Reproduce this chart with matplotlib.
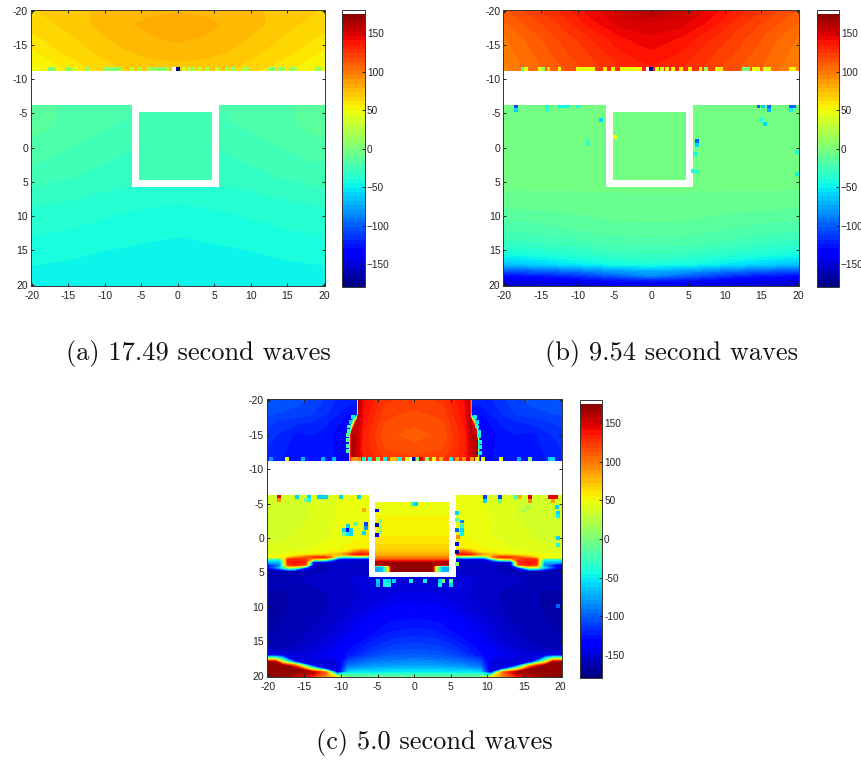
import numpy as np
import matplotlib
matplotlib.use('Agg')
import matplotlib.pyplot as plt
from matplotlib.colors import ListedColormap, Normalize
from matplotlib.cm import ScalarMappable

plt.rcParams['font.family'] = ['Liberation Sans', 'DejaVu Sans']

captions = ['(a) 17.49 second waves', '(b) 9.54 second waves', '(c) 5.0 second waves']
tick_vals = [-20, -15, -10, -5, 0, 5, 10, 15, 20]
cb_ticks = [-150, -100, -50, 0, 50, 100, 150]

# everything is mirrored about x=0, so only x>=0 is listed
# panel a
a_top_x = [0, 4, 8, 12, 16, 20.2]
a_top_y = [-20.2, -18, -16, -14, -12, -11.2]
a_top_z = [[78, 77, 75, 73, 70, 67],
           [82, 80, 77, 73, 68, 64],
           [80, 78, 75, 70, 65, 60],
           [76, 75, 72, 67, 62, 55],
           [72, 71, 68, 63, 57, 50],
           [70, 69, 66, 60, 54, 47]]
a_side_x = [6, 10, 14, 18, 20.6]
a_side_y = [-6.2, -3, 0, 5.8]
a_side_z = [[-22, -20, -18, -16, -15],
            [-24, -22, -19, -16, -15],
            [-28, -26, -23, -20, -18],
            [-32, -31, -30, -29, -28]]
a_in_x = [0, 5]
a_in_y = [-5.2, 4.8]
a_in_z = [[-23, -23], [-26, -26]]
a_low_x = [0, 5, 10, 15, 20.2]
a_low_y = [5.8, 10, 14, 18, 20.2]
a_low_z = [[-36, -35, -33, -31, -30],
           [-42, -41, -39, -37, -36],
           [-46, -45, -44, -42, -41],
           [-49, -49, -48, -47, -46],
           [-50, -50, -50, -49, -49]]
edge_x = [-17.5, -17, -15.2, -14.7, -14, -12.5, -10, -9.5, -9, -8.5, -8, -6.3, -5.2,
          -4, -3.5, -3, -2.5, -2, -1.5, -0.5, 0, 0.8, 1.5, 2.2, 3, 4, 5.3, 6.7, 7.5,
          9, 9.5, 12.6, 13.2, 14, 14.5, 15.5, 16, 19, 19.5]
a_edge_v = [5, 10, 0, 5, 40, 10, 10, 5, 0, 5, 10, 30, 20, 20, 10, 15, 5, 10, 20, 180, -170,
            30, 25, 20, 30, 15, 30, 20, 10, 25, 15, 10, 5, 10, 15, 5, 20, 10, 15]
# panel b
b_top_z = [[165, 155, 145, 132, 122, 112],
           [150, 148, 138, 125, 115, 105],
           [145, 140, 130, 120, 110, 100],
           [140, 135, 125, 117, 107, 98],
           [135, 130, 122, 113, 105, 95],
           [133, 128, 120, 112, 104, 93]]
b_side_z = [[-3, -3, -3, -3, -3],
            [-3, -3, -3, -3, -3],
            [-3, -3, -3, -4, -4],
            [-5, -5, -5, -5, -6]]
b_in_z = [[-3, -3], [-4, -4]]
b_low_y = [5.8, 8, 10, 12, 14, 15.5, 17, 18, 18.7, 19.3, 20.2]
b_low_z = [[-5, -5, -5, -5, -5],
           [-7, -7, -8, -8, -9],
           [-10, -10, -12, -14, -15],
           [-13, -14, -17, -20, -22],
           [-20, -21, -25, -29, -32],
           [-28, -30, -35, -40, -44],
           [-40, -44, -52, -60, -66],
           [-75, -80, -92, -100, -105],
           [-85, -100, -115, -125, -130],
           [-120, -125, -135, -140, -145],
           [-145, -150, -155, -158, -160]]
b_edge_v = [-20, 45, 50, 10, 65, 50, 45, 50, 40, 45, 50, 60, 45, 45, 50, 40, 50, 45, 55, 180, -170,
            50, 30, 45, 50, 60, 45, 55, 10, 50, 60, 10, -10, 45, 50, 35, 50, 45, 55]
b_spot_x = [-18.4, -18.4, -14.2, -14.2, -12.5, -12, -11.5, -10, -8.6, -8.6, -6.8, -5, 6.2, 6.2, 5.9, 5.7, 6.2,
            14.6, 15.2, 16, 16, 15, 15.5, 19, 19.5, 19, 19.8, 19.8]
b_spot_y = [-6, -5.5, -6, -5.5, -6, -6, -6, -6, -1, -0.5, -4, -1.6, -0.9, -0.4, 1, 3.4, 3.6,
            -6, -6, -6, -5.5, -4, -3.5, -6, -6, -5.5, 0.7, 3.9]
b_spot_v = [-110, -60, -40, -30, -50, -50, -50, -40, -30, -30, -60, 50, -100, -60, -40, -35, -30,
            -100, -60, -100, -70, -45, -60, -100, -100, -50, -40, -50]
# panel c
c_top_x = [0, 4, 7, 7.6, 7.8, 8.6, 8.9, 10, 12, 14, 16, 18, 20.2]
c_top_y = [-20.2, -18, -17, -15, -13, -11.2]
c_top_z = [[122, 125, 142, 158, -120, -120, -120, -120, -114, -108, -104, -102, -100],
           [116, 120, 140, 158, -130, -130, -130, -125, -118, -112, -110, -108, -106],
           [114, 118, 138, 155, 165, -135, -135, -130, -122, -118, -116, -113, -110],
           [110, 114, 134, 150, 155, 165, -145, -135, -126, -124, -126, -120, -115],
           [114, 118, 134, 148, 152, 165, -145, -135, -124, -124, -128, -122, -118],
           [120, 124, 136, 148, 150, 165, -145, -135, -124, -124, -128, -124, -118]]
c_side_x = [6, 7, 8, 9, 10, 11, 12, 13.5, 14.5, 16, 17, 18, 20.6]
c_side_y = [-6.2, -3, 0, 1.5, 2.0, 2.4, 2.8, 3.1, 3.5, 3.9, 4.3, 4.8, 5.8]
c_side_z = [[48, 48, 47, 46, 45, 44, 42, 40, 39, 38, 37, 36, 36],
            [50, 49, 48, 47, 46, 44, 42, 40, 39, 38, 37, 36, 36],
            [52, 51, 50, 49, 47, 45, 44, 42, 41, 40, 39, 38, 38],
            [54, 54, 53, 52, 50, 49, 47, 45, 44, 43, 42, 41, 40],
            [100, 110, 85, 58, 54, 52, 50, 48, 47, 45, 44, 43, 42],
            [130, 138, 130, 100, 78, 68, 62, 56, 52, 50, 48, 46, 45],
            [-60, -40, -50, -55, -40, 100, 125, 125, 110, 80, 60, 52, 48],
            [-150, -148, -148, -148, -145, -60, 35, 55, 120, 130, 120, -40, -40],
            [-155, -155, -155, -155, -155, -155, -155, -150, 130, 138, 130, -70, -70],
            [-155, -155, -155, -156, -156, -156, -158, -155, 110, 135, 120, -90, -165],
            [-155, -155, -156, -156, -157, -157, -158, -158, -120, 20, 20, -60, -165],
            [-155, -155, -156, -156, -157, -158, -158, -160, -160, -160, -160, -160, -165],
            [-150, -150, -151, -152, -152, -153, -154, -156, -157, -158, -159, -160, -160]]
c_in_x = [0, 1, 2, 2.8, 3.2, 4, 5]
c_in_y = [-5.2, -2, 0, 1, 2, 2.5, 3, 3.3, 3.6, 3.9, 4.1, 4.8]
c_in_z = [[50, 50, 50, 50, 50, 50, 50],
          [51, 51, 51, 51, 51, 51, 51],
          [57, 57, 57, 57, 57, 57, 57],
          [62, 62, 62, 62, 62, 62, 62],
          [70, 70, 70, 70, 70, 70, 70],
          [82, 82, 82, 82, 82, 82, 82],
          [100, 100, 100, 100, 100, 100, 100],
          [130, 130, 130, 130, 130, 130, 130],
          [168, 168, 168, 168, 168, 168, 168],
          [170, 170, 170, 170, 165, 165, 165],
          [172, 172, 172, 172, 40, -70, -70],
          [172, 172, 172, 172, 45, -70, -70]]
c_low_x = [0, 3, 6, 9, 10.5, 12, 14, 16, 18, 19, 20.2]
c_low_y = [5.8, 8, 10, 12, 14, 16, 17, 18, 18.5, 19, 19.5, 20.2]
c_low_z = [[-148, -148, -150, -152, -152, -154, -156, -158, -160, -160, -160],
           [-146, -147, -150, -154, -156, -158, -160, -162, -164, -164, -165],
           [-138, -140, -146, -152, -155, -158, -160, -162, -164, -164, -165],
           [-128, -130, -138, -148, -152, -156, -159, -162, -163, -164, -164],
           [-120, -122, -130, -142, -148, -152, -156, -160, -162, -163, -163],
           [-108, -110, -118, -132, -140, -146, -152, -156, -160, -160, -160],
           [-100, -102, -110, -128, -136, -142, -146, -150, -148, -140, -150],
           [-85, -88, -92, -105, -150, -150, -150, -140, 40, 165, 170],
           [-78, -80, -84, -95, -150, -150, -140, 80, 170, 170, 170],
           [-65, -66, -70, -80, -150, -140, 20, 170, 170, 170, 170],
           [-50, -50, -52, -55, -150, 100, 165, 170, 170, 170, 170],
           [-10, -10, -10, -5, 50, 90, 130, 150, 170, 170, 170]]
c_edge_x = [-19.5, -17.4, -15.2, -12.5, -10.9, -8.4, -8, -7.5, -6.9, -6, -5, -4, -3, -2.5, -2, -1, -0.5, -0.1,
            0.45, 0.9, 1.8, 2.7, 3.6, 5, 5.9, 6.8, 7.9, 8.6, 9.4, 11.9, 14.3, 15.8, 18.5, 19]
c_edge_v = [-80, 50, -70, -70, -70, 90, 85, 90, -40, -50, 10, -50, 70, 75, -50, 45, 180, -170,
            10, 150, 10, 50, 80, -50, 85, 90, 85, 50, 50, 50, -70, 10, -60, -60]
c_spot_x = [-18.45, -18.45, -15.95, -14.4, -14.4, -14.8, -13, -12.6, -12.1, -9.95, -7.6, -6.9,
            -9.1, -9.6, -8.6, -9.1, -9.1, -8.6, -9.6, -8.1, -6.6, -6.6, -6.8,
            -5, -4, -3.5, -2.8, -0.5, 1.5, 3.5, 4, 5, -5, -4, -3.5, 3.5, 5,
            -5.1, -5.1, -5.1, -4.6, -4.6, -4.6, -0.2, 0.3,
            5.9, 5.9, 6.5, 5.9, 6.5, 6, 5.9, 5.9, 5.9, 6.5, 6.5,
            9.7, 9.7, 11.7, 11.7, 13.9, 14.5, 15.8, 15.8, 19, 18.6, 19.4, 19, 19.5,
            15, 15.5, 19.7, 19.7, 19.7, 19.7, 19.7,
            -8.4, -8.7, -8.9, -8.9, -9, -9, -9, -9, 8.3, 8.6, 8.6, 8.9, 8.9, 9, 9, 9]
c_spot_y = [-6, -5.5, -6, -6, -5.5, -5.5, -6, -6, -6, -6, -6, -4.1,
            -1.16, -1.16, -1.16, -1.7, -0.6, -0.6, -0.6, -2, -1.4, -2, -0.7,
            6.2, 6.2, 6.2, 6.2, 6.2, 6.2, 6.2, 6.2, 6.2, 6.8, 6.8, 6.8, 6.8, 6.8,
            -4, -1.9, -0.5, -2.5, -1.6, -0.9, -5, -5,
            -3.6, -2.6, -2.4, -1.1, -1.2, -0.1, 0.9, 2, 3.8, -1.8, -0.6,
            -6, -5.4, -6, -5.4, -6, -6, -6, -5.4, -6, -6, -6, -5.4, -4.5,
            -4, -4.5, -3.7, -3.2, 0, 1, 9.9,
            -17.6, -16.8, -16.2, -15.6, -15, -14.2, -13.4, -12.6, -17.6, -16.8, -16.2, -15.4, -14.8, -14, -13.2, -12.4]
c_spot_v = [150, 90, -60, -60, -40, -10, -60, -60, -60, -60, -60, 80,
            -140, -60, -60, -60, -50, -60, -10, -10, -80, -110, -60,
            -60, -50, -60, -60, -50, -50, -60, -10, -20, -70, -50, -40, -50, -60,
            -130, -165, -140, -10, 0, -10, -40, -60,
            -60, -10, -90, -100, -60, 90, -130, -170, 10, -30, -50,
            -110, -60, -110, -10, -30, 80, 150, 90, 150, 150, 150, 85, -60,
            15, 10, -60, -50, -60, -40, -100,
            -50, -60, -30, -20, -20, -15, -20, -25, -50, -55, -40, -45, -50, -40, -45, -50]

# the moonpool walls sit a bit left of x=0 in the original
wall_shift = -0.28

# 64 level jet, top level is the white one used for the gaps in the original
colors = plt.cm.jet(np.linspace(0, 1, 64))
colors[-1] = [1, 1, 1, 1]
cmap = ListedColormap(colors)
norm = Normalize(-180, 180)
levels = np.linspace(-180, 180, 65)

W, H = 862, 760
fig = plt.figure(figsize=(W / 100, H / 100), dpi=100)


def px_axes(x0, y0, x1, y1):
    return fig.add_axes([x0 / W, 1 - y1 / H, (x1 - x0) / W, (y1 - y0) / H])


def block(ax, xs, ys, zs, kind='full'):
    xs = np.array(xs, float)
    zs = np.array(zs, float)
    if kind == 'side':
        ax.contourf(xs + wall_shift, ys, zs, levels=levels, cmap=cmap, norm=norm)
        ax.contourf(-xs + wall_shift, ys, zs, levels=levels, cmap=cmap, norm=norm)
    else:
        shift = wall_shift if kind == 'inner' else 0
        ax.contourf(np.r_[-xs[:0:-1], xs] + shift, ys, np.c_[zs[:, :0:-1], zs],
                    levels=levels, cmap=cmap, norm=norm)


def panel(box, cb_box, caption, cap_xy, blocks, sx, sy, sv):
    ax = px_axes(*box)
    for b in blocks:
        block(ax, *b)
    ax.scatter(sx, sy, c=sv, cmap=cmap, norm=norm, marker='s', s=8, linewidths=0, zorder=3)
    ax.set_xlim(-20.15, 20.15)
    ax.set_ylim(20.15, -20.15)
    ax.set_xticks(tick_vals)
    ax.set_yticks(tick_vals)
    ax.set_xticklabels([str(t) for t in tick_vals])
    ax.set_yticklabels([str(t) for t in tick_vals])
    ax.tick_params(direction='in', length=2, width=0.7, top=True, right=True, labelsize=7.5,
                   colors='#222222', pad=2)
    ax.tick_params(axis='x', pad=4)
    for s in ax.spines.values():
        s.set_linewidth(0.7)
        s.set_color('#333333')
    cax = px_axes(*cb_box)
    cb = fig.colorbar(ScalarMappable(norm=norm, cmap=cmap), cax=cax, ticks=cb_ticks)
    cb.ax.set_yticklabels([str(t) for t in cb_ticks])
    cb.ax.tick_params(direction='in', length=2, width=0.7, labelsize=7.2, colors='#222222', pad=1.5)
    cb.outline.set_linewidth(0.7)
    cb.outline.set_edgecolor('#333333')
    fig.text(cap_xy[0] / W, 1 - cap_xy[1] / H, caption, family='cmr10', fontsize=19,
             ha='center', va='center', color='#111111')


edge_y_a = [-11.45] * len(edge_x)
edge_y_c = [-11.45] * len(c_edge_x)

panel((30.7, 9.5, 325, 285.7), (342.3, 10, 364.7, 287.3), captions[0], (198, 353),
      [(a_top_x, a_top_y, a_top_z), (a_side_x, a_side_y, a_side_z, 'side'),
       (a_in_x, a_in_y, a_in_z, 'inner'), (a_low_x, a_low_y, a_low_z)],
      edge_x, edge_y_a, a_edge_v)
panel((503.3, 9.5, 799.3, 285.7), (816.7, 10, 838.7, 287.3), captions[1], (672, 353),
      [(a_top_x, a_top_y, b_top_z), (a_side_x, a_side_y, b_side_z, 'side'),
       (a_in_x, a_in_y, b_in_z, 'inner'), (a_low_x, b_low_y, b_low_z)],
      edge_x + b_spot_x, edge_y_a + b_spot_y, b_edge_v + b_spot_v)
panel((266.7, 399.3, 561.7, 676.7), (579.7, 400, 602, 678), captions[2], (434, 743),
      [(c_top_x, c_top_y, c_top_z), (c_side_x, c_side_y, c_side_z, 'side'),
       (c_in_x, c_in_y, c_in_z, 'inner'), (c_low_x, c_low_y, c_low_z)],
      c_edge_x + c_spot_x, edge_y_c + c_spot_y, c_edge_v + c_spot_v)

fig.savefig('out.png', dpi=100)
